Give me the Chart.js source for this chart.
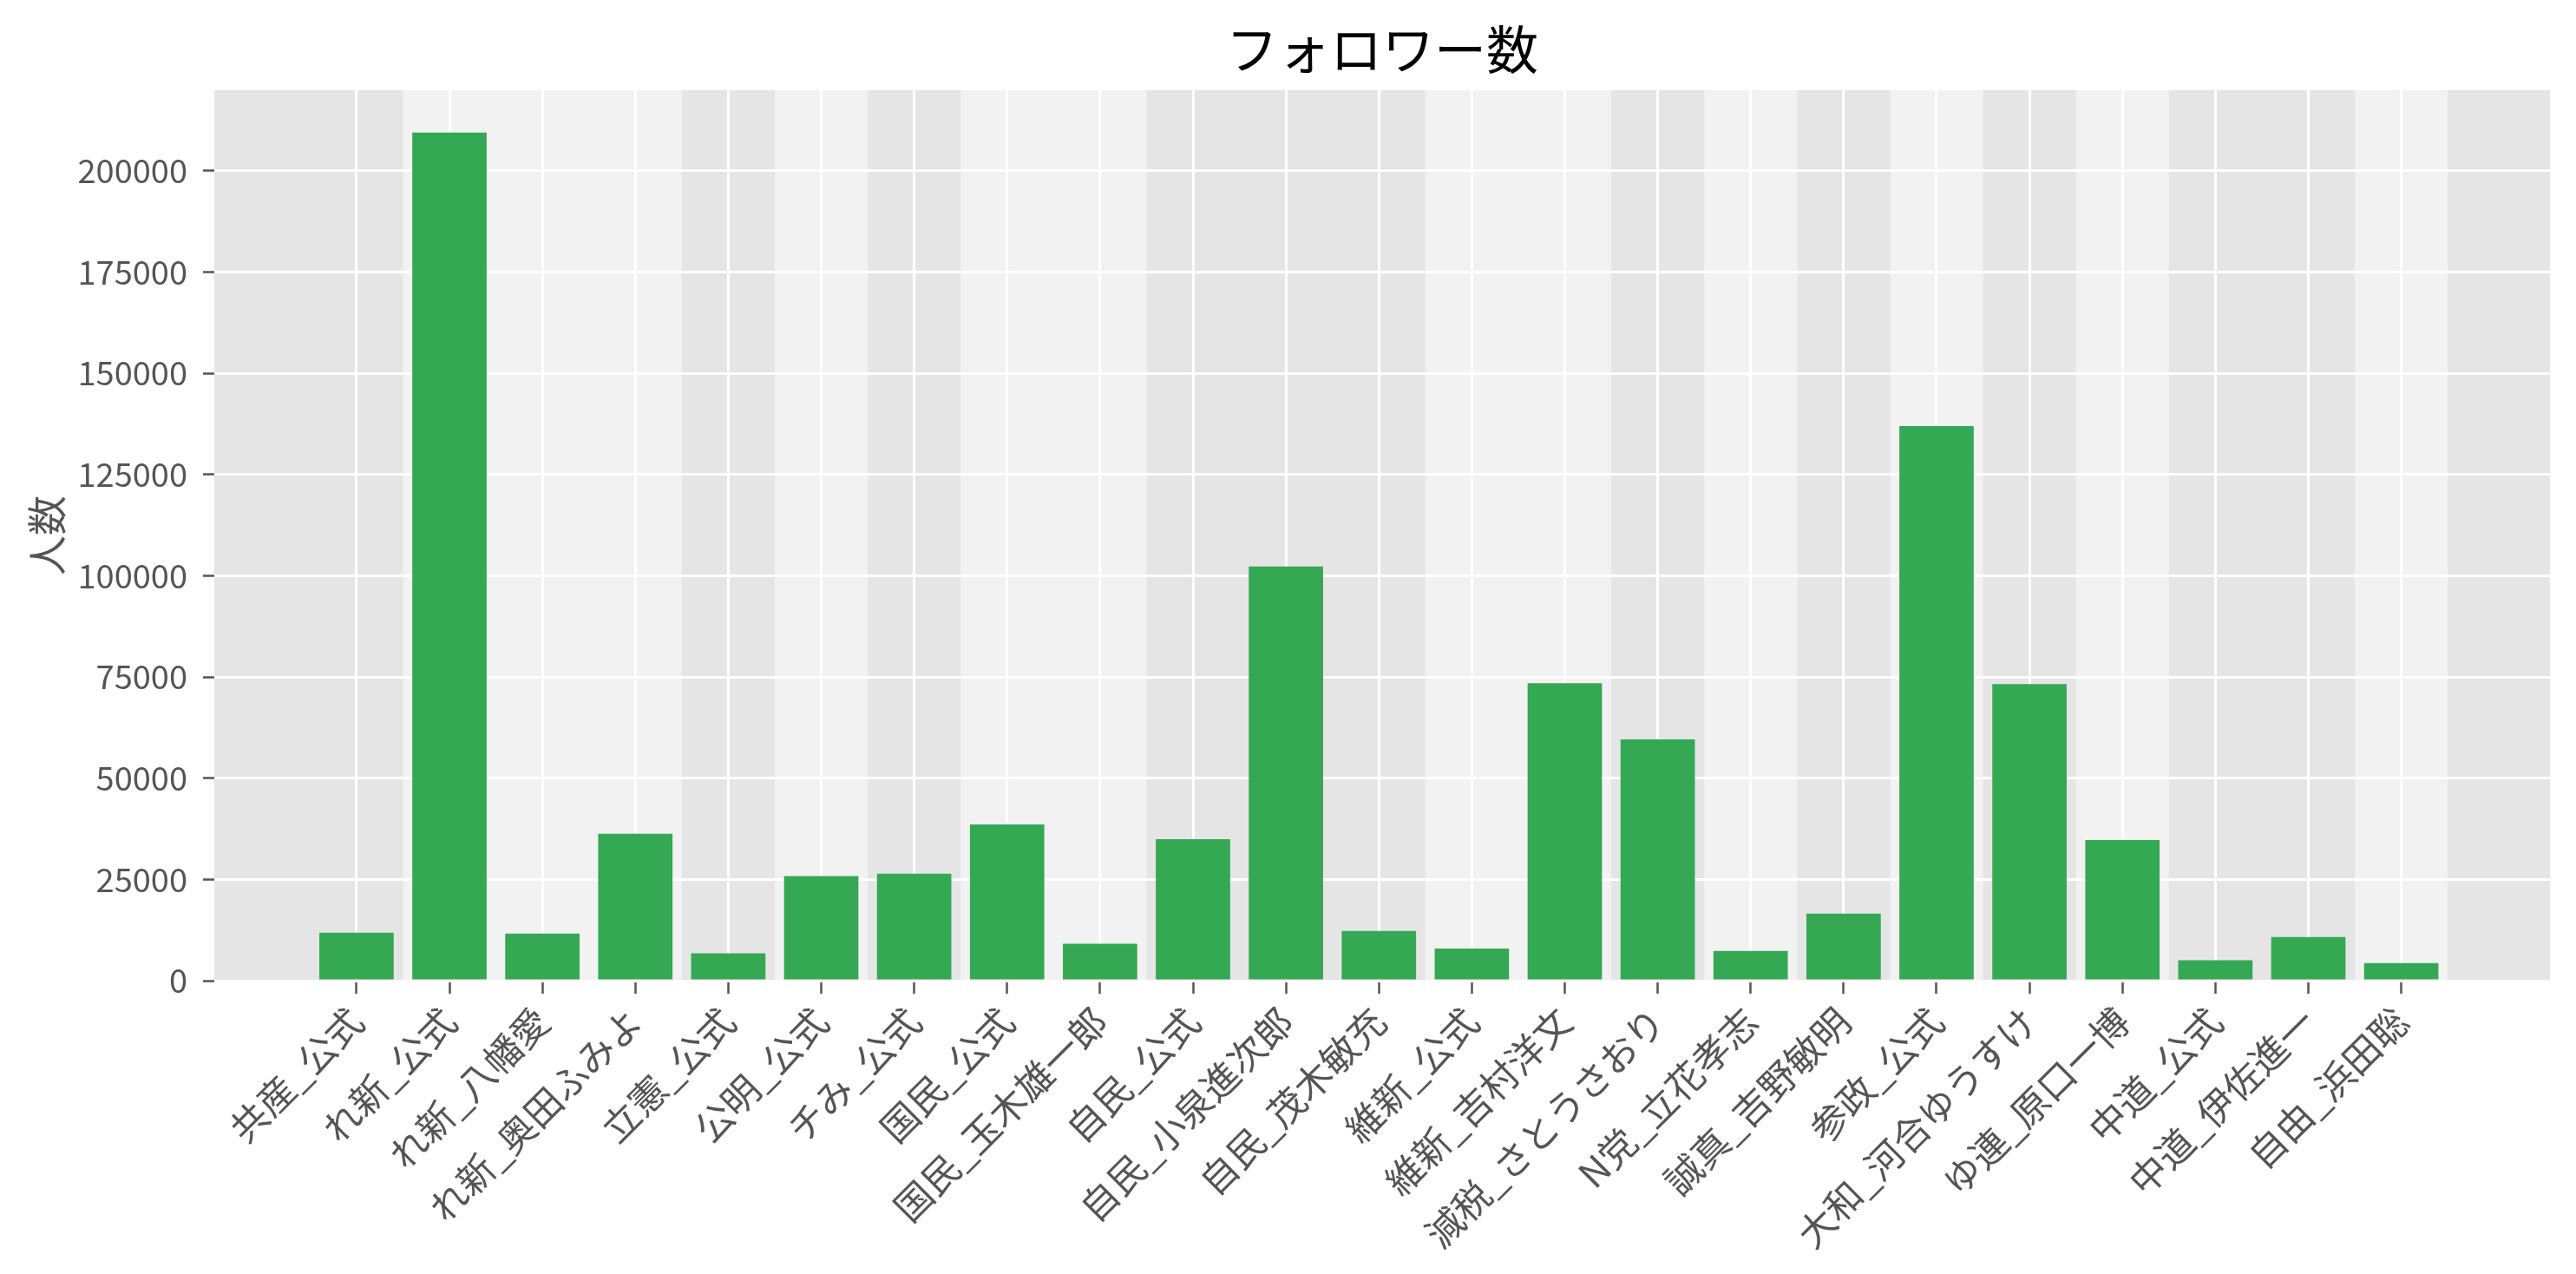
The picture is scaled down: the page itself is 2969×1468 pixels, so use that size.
<!DOCTYPE html>
<html>
<head>
<meta charset="utf-8">
<script src="https://cdn.jsdelivr.net/npm/chart.js@4.4.1/dist/chart.umd.min.js"></script>
<style>
html, body { margin: 0; padding: 0; background: #ffffff; }
canvas { display: block; }
</style>
</head>
<body>
<canvas id="chart" width="2969" height="1468"></canvas>
<script>
// ---- data ----
const categories = [
  '共産_公式', 'れ新_公式', 'れ新_八幡愛', 'れ新_奥田ふみよ', '立憲_公式',
  '公明_公式', 'チみ_公式', '国民_公式', '国民_玉木雄一郎', '自民_公式',
  '自民_小泉進次郎', '自民_茂木敏充', '維新_公式', '維新_吉村洋文', '減税_さとうさおり',
  'N党_立花孝志', '誠真_吉野敏明', '参政_公式', '大和_河合ゆうすけ', 'ゆ連_原口一博',
  '中道_公式', '中道_伊佐進一', '自由_浜田聡'
];
const followers = [
  11850, 209400, 11600, 36250, 6750,
  25800, 26400, 38600, 9100, 34950,
  102300, 12250, 7950, 73450, 59550,
  7350, 16550, 136950, 73250, 34700,
  5050, 10750, 4350
];
const yTicks = [0, 25000, 50000, 75000, 100000, 125000, 150000, 175000, 200000];
const chartTitle = 'フォロワー数';
const yAxisTitle = '人数';

// ---- styling / layout ----
const FONT = '"Noto Sans CJK JP", "Noto Sans", sans-serif';
const X_MIN = -1.53, X_MAX = 23.6;
const Y_MAX = Math.max(...followers) * 1.05;

// party groups (consecutive bars sharing the label prefix) -> alternating shading
const parties = categories.map(c => c.split('_')[0]);
const groups = [];
parties.forEach((p, i) => {
  const g = groups[groups.length - 1];
  if (g && g.party === p) g.end = i; else groups.push({ party: p, start: i, end: i });
});

const bandPlugin = {
  id: 'bands',
  beforeDraw(chart) {
    const { ctx, chartArea: a, scales: { x } } = chart;
    ctx.save();
    ctx.fillStyle = '#E5E5E5';
    ctx.fillRect(a.left, a.top, a.right - a.left, a.bottom - a.top);
    ctx.fillStyle = '#F2F2F2';
    groups.forEach((g, k) => {
      if (k % 2 === 1) {
        const x0 = x.getPixelForValue(g.start - 0.5);
        const x1 = x.getPixelForValue(g.end + 0.5);
        ctx.fillRect(x0, a.top, x1 - x0, a.bottom - a.top);
      }
    });
    ctx.restore();
  }
};

new Chart(document.getElementById('chart'), {
  type: 'bar',
  data: {
    datasets: [{
      data: followers.map((v, i) => ({ x: i, y: v })),
      backgroundColor: '#34A853',
      borderWidth: 0,
      barPercentage: 0.8,
      categoryPercentage: 1.0
    }]
  },
  options: {
    responsive: false,
    devicePixelRatio: 1,
    animation: false,
    layout: { padding: { left: 0, right: 30, top: 0, bottom: 0 } },
    plugins: {
      legend: { display: false },
      tooltip: { enabled: false },
      title: {
        display: true,
        fullSize: false,
        text: chartTitle,
        color: '#000000',
        font: { family: FONT, size: 60, weight: 'normal' },
        padding: { top: 21, bottom: 11 }
      }
    },
    scales: {
      x: {
        type: 'linear',
        min: X_MIN,
        max: X_MAX,
        offset: false,
        afterBuildTicks: s => { s.ticks = categories.map((_, i) => ({ value: i })); },
        afterFit: s => { s.height = 338; },
        ticks: {
          autoSkip: false,
          minRotation: 45,
          maxRotation: 45,
          color: '#555555',
          font: { family: FONT, size: 43 },
          padding: 6,
          callback: v => categories[v]
        },
        grid: {
          offset: false,
          color: '#FFFFFF',
          lineWidth: 3,
          tickColor: '#555555',
          tickWidth: 2.5,
          tickLength: 15
        },
        border: { display: false }
      },
      y: {
        min: 0,
        max: Y_MAX,
        afterBuildTicks: s => { s.ticks = yTicks.map(v => ({ value: v })); },
        afterFit: s => { s.width = 247; },
        ticks: {
          color: '#555555',
          font: { family: FONT, size: 38 },
          padding: 18,
          callback: v => String(v)
        },
        grid: {
          color: '#FFFFFF',
          lineWidth: 3,
          tickColor: '#555555',
          tickWidth: 2.5,
          tickLength: 13
        },
        border: { display: false },
        title: {
          display: true,
          text: yAxisTitle,
          color: '#555555',
          font: { family: FONT, size: 46 },
          padding: { top: 26, bottom: 0 }
        }
      }
    }
  },
  plugins: [bandPlugin]
});
</script>
</body>
</html>
